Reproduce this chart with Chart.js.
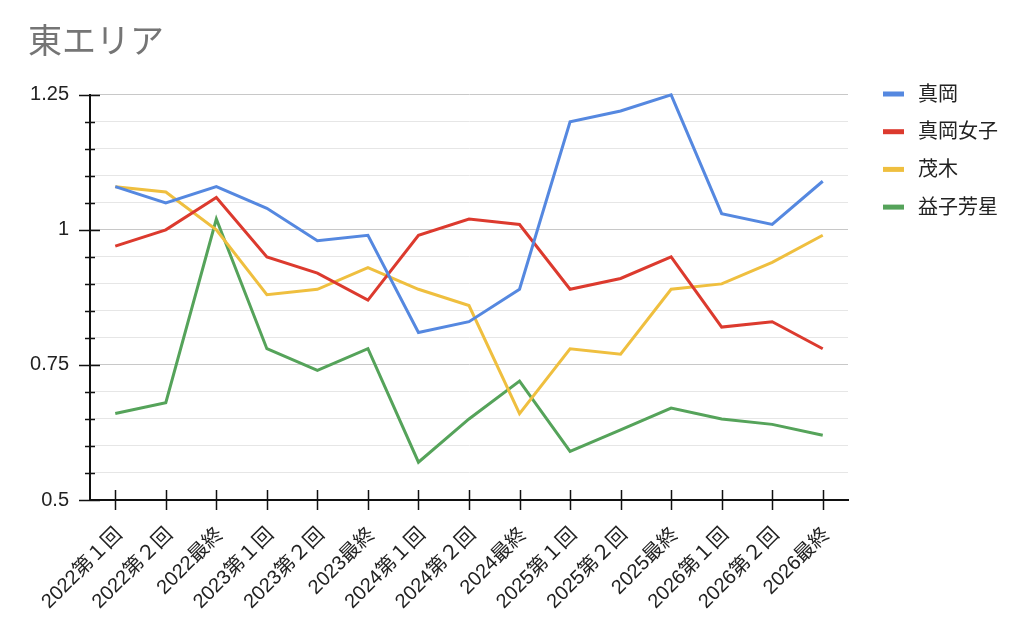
<!DOCTYPE html>
<html>
<head>
<meta charset="utf-8">
<script src="https://cdn.jsdelivr.net/npm/chart.js@4.4.0/dist/chart.umd.min.js"></script>
<style>
html,body{margin:0;padding:0;background:#fff;}
#wrap{width:1024px;height:632px;position:relative;}
</style>
</head>
<body>
<div id="wrap"><canvas id="c" width="1024" height="632"></canvas></div>
<script>
const categories = ['2022第１回','2022第２回','2022最終','2023第１回','2023第２回','2023最終','2024第１回','2024第２回','2024最終','2025第１回','2025第２回','2025最終','2026第１回','2026第２回','2026最終'];
const seriesNames = ['真岡','真岡女子','茂木','益子芳星'];
const moka      = [1.08,1.05,1.08,1.04,0.98,0.99,0.81,0.83,0.89,1.20,1.22,1.25,1.03,1.01,1.09];
const mokaJoshi = [0.97,1.00,1.06,0.95,0.92,0.87,0.99,1.02,1.01,0.89,0.91,0.95,0.82,0.83,0.78];
const motegi    = [1.08,1.07,1.00,0.88,0.89,0.93,0.89,0.86,0.66,0.78,0.77,0.89,0.90,0.94,0.99];
const mashiko   = [0.66,0.68,1.02,0.78,0.74,0.78,0.57,0.65,0.72,0.59,0.63,0.67,0.65,0.64,0.62];
const yTickLabels = [0.5,0.75,1,1.25];
const colors = ['#5588e0','#dc3a2e','#efbf3f','#55a35a'];

const FONT = "'Liberation Sans', 'Noto Sans CJK JP', sans-serif";
const seriesValues = [moka, mokaJoshi, motegi, mashiko];

const isMajor = v => yTickLabels.some(t => Math.abs(t - v) < 1e-6);

const tickPlugin = {
  id: 'tickMarks',
  afterDraw(chart) {
    const ctx = chart.ctx;
    const x = chart.scales.x, y = chart.scales.y;
    const area = chart.chartArea;
    ctx.save();
    ctx.strokeStyle = '#111';
    ctx.lineWidth = 1.5;
    ctx.beginPath();
    y.ticks.forEach(t => {
      const py = Math.round(y.getPixelForValue(t.value)) + 0.5;
      const major = isMajor(t.value);
      const l = major ? 11 : 5;
      const r = major ? 10 : 5;
      ctx.moveTo(area.left - l, py);
      ctx.lineTo(area.left + r, py);
    });
    categories.forEach((c, i) => {
      const px = Math.round(x.getPixelForValue(i)) + 0.5;
      ctx.moveTo(px, area.bottom - 10);
      ctx.lineTo(px, area.bottom + 10);
    });
    ctx.stroke();
    ctx.restore();
  }
};

const legendPlugin = {
  id: 'customLegend',
  afterDraw(chart) {
    const ctx = chart.ctx;
    ctx.save();
    ctx.font = '20px ' + FONT;
    ctx.textBaseline = 'middle';
    ctx.textAlign = 'left';
    chart.data.datasets.forEach((ds, i) => {
      const cy = 94 + i * 37.7;
      ctx.fillStyle = ds.borderColor;
      ctx.fillRect(883, cy - 2.5, 21, 5);
      ctx.fillStyle = '#222';
      ctx.fillText(ds.label, 918, cy + 1);
    });
    ctx.restore();
  }
};

new Chart(document.getElementById('c'), {
  type: 'line',
  data: {
    labels: categories,
    datasets: seriesNames.map((n, i) => ({
      label: n,
      data: seriesValues[i],
      borderColor: colors[i],
      backgroundColor: colors[i],
      borderWidth: 3,
      pointRadius: 0,
      tension: 0,
      clip: false
    }))
  },
  options: {
    responsive: false,
    animation: false,
    devicePixelRatio: 1,
    layout: { padding: { left: 28, right: 176, top: 0, bottom: 0 } },
    plugins: {
      legend: { display: false },
      tooltip: { enabled: false },
      title: {
        display: true,
        text: '東エリア',
        align: 'start',
        color: '#757575',
        font: { family: FONT, size: 34, weight: 'normal' },
        padding: { top: 23, bottom: 31 }
      }
    },
    scales: {
      x: {
        offset: true,
        grid: { display: true, color: 'rgba(0,0,0,0)', drawTicks: false, offset: true },
        border: { display: true, color: '#111', width: 2 },
        ticks: {
          autoSkip: false,
          minRotation: 45,
          maxRotation: 45,
          padding: 23,
          labelOffset: 4,
          color: '#222',
          font: { family: FONT, size: 20 }
        },
        afterFit(s) { s.height = 132; }
      },
      y: {
        min: 0.5,
        max: 1.25,
        grid: {
          drawTicks: false,
          color: ctx => isMajor(ctx.tick.value) ? '#c8c8c8' : '#e6e6e6',
          lineWidth: 1
        },
        border: { display: true, color: '#111', width: 2 },
        ticks: {
          stepSize: 0.05,
          autoSkip: false,
          padding: 21,
          color: '#222',
          font: { family: FONT, size: 20 },
          callback: v => isMajor(v) ? String(Math.round(v * 100) / 100) : ''
        },
        afterFit(s) { s.width = 62; }
      }
    }
  },
  plugins: [tickPlugin, legendPlugin]
});
</script>
</body>
</html>
